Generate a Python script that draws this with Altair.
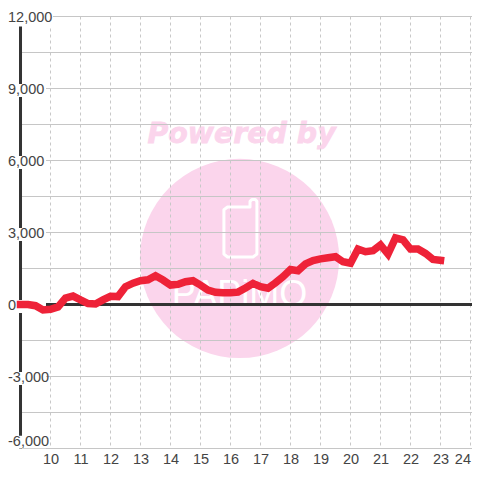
import altair as alt
import pandas as pd

# Series (quarter-hour steps from 9:00 to 23:00)
hours = [9 + i * 0.25 for i in range(57)]
values = [0, 0, -50, -230, -200, -100, 270, 350, 190, 40, 20, 190, 340, 330, 740, 890,
          990, 1030, 1200, 1020, 810, 840, 950, 990, 810, 600, 510, 490, 490, 515, 690, 880,
          740, 680, 910, 1160, 1460, 1410, 1690, 1830, 1900, 1950, 1990, 1780, 1720, 2310,
          2200, 2240, 2480, 2100, 2770, 2690, 2310, 2310, 2130, 1880, 1840]

x_ticks = list(range(10, 25))
y_major = [12000, 9000, 6000, 3000, 0, -3000, -6000]
y_lines = list(range(-6000, 12001, 1500))
y_text = ["12,000", "9,000", "6,000", "3,000", "0", "-3,000", "-6,000"]

# Watermark phone outline
phone_hours = [16.65, 15.9, 15.78, 15.78, 15.9, 16.75, 16.88, 16.88, 16.82, 16.72, 16.65, 16.65]
phone_vals = [4060, 4060, 3950, 2100, 1980, 1980, 2100, 4300, 4380, 4380, 4300, 4060]

X_DOM = [8.583, 24.05]
Y_DOM = [-6020.83, 12354.17]
x_s = alt.Scale(domain=X_DOM, nice=False, zero=False)
y_s = alt.Scale(domain=Y_DOM, nice=False, zero=False)

labels = pd.DataFrame({"v": y_major, "t": y_text})
series = pd.DataFrame({"h": hours, "v": values})
hgrid = pd.DataFrame({"v": y_lines, "x1": [9] * len(y_lines), "x2": [X_DOM[1]] * len(y_lines)})
vgrid = pd.DataFrame({"h": x_ticks, "a": [12000] * len(x_ticks), "b": [-6000] * len(x_ticks)})
phone = pd.DataFrame({"h": phone_hours, "v": phone_vals, "o": range(len(phone_hours))})

PINK = "#fbd5ec"
DARK = "#333333"
TXT = "#444444"
FONT = "Liberation Sans"

AX = alt.Axis(values=x_ticks, domain=False, ticks=False, grid=False,
              title=None, labelFont=FONT, labelFontSize=14.5, labelColor=TXT, labelPadding=3,
              labelFlush=2, labelOverlap=False, format="d")
X = alt.X("h:Q", scale=x_s, axis=AX)
X1 = alt.X("x1:Q", scale=x_s, axis=AX)
Y = alt.Y("v:Q", scale=y_s, axis=None)
YA = alt.Y("a:Q", scale=y_s, axis=None)

circle = alt.Chart(pd.DataFrame({"h": [16.3], "v": [1917]})).mark_circle(
    size=39700, color=PINK, opacity=1).encode(x=X, y=Y)
powered = alt.Chart(pd.DataFrame({"h": [16.37], "v": [7100], "t": ["Powered by"]})).mark_text(
    font="DejaVu Sans", fontWeight="bold", fontStyle="italic", fontSize=28.4, color=PINK,
    stroke=PINK, strokeWidth=0.8, baseline="middle", align="center").encode(x=X, y=Y, text="t:N")
brand = alt.Chart(pd.DataFrame({"h": [16.3], "v": [-70], "t": ["PAPiMO"]})).mark_text(
    font=FONT, fontSize=36, color="white", baseline="alphabetic",
    align="center").encode(x=X, y=Y, text="t:N")
phone_l = alt.Chart(phone).mark_line(color="white", strokeWidth=3, strokeJoin="round", strokeCap="round").encode(
    x=X, y=Y, order="o:Q")

h_rules = alt.Chart(hgrid).mark_rule(color="#c6c6c6", strokeWidth=1.2).encode(x=X1, x2="x2:Q", y=Y)
v_rules = alt.Chart(vgrid).mark_rule(color="#c8c8c8", strokeWidth=1, strokeDash=[3, 3]).encode(x=X, y=YA, y2="b:Q")

zero_rule = alt.Chart(pd.DataFrame({"v": [0], "x1": [9], "x2": [X_DOM[1]]})).mark_rule(
    color=DARK, strokeWidth=3).encode(x=X1, x2="x2:Q", y=Y)
y_rule = alt.Chart(pd.DataFrame({"h": [9], "a": [12000], "b": [-6000]})).mark_rule(
    color=DARK, strokeWidth=3).encode(x=X, y=YA, y2="b:Q")

def box(filter_expr, right, off, sw):
    return alt.Chart(labels).transform_filter(filter_expr).mark_rule(
        color="white", strokeWidth=sw, yOffset=off).encode(
        x=alt.value(0), x2=alt.value(right), y=Y)

def lab(filter_expr, off):
    return alt.Chart(labels).transform_filter(filter_expr).mark_text(
        align="left", baseline="middle", font=FONT, fontSize=14.5, color=TXT, dy=off).encode(
        x=alt.value(0), y=Y, text="t:N")

MID = "datum.v != 12000 && datum.v != -6000"
boxes = box(MID, 38, 2, 13) + box("datum.v == 12000", 45, 2, 16) + box("datum.v == -6000", 38, -6.5, 12.5)
texts = lab("datum.v != -6000", 1) + lab("datum.v == -6000", -7)

line = alt.Chart(series).mark_line(color="#ee2238", strokeWidth=7.5, strokeCap="square",
                                   strokeJoin="miter").encode(x=X, y=Y)

chart = alt.layer(circle, powered, brand, phone_l, h_rules, v_rules, zero_rule, y_rule, boxes, line, texts).properties(
    width=464, height=441, autosize=alt.AutoSizeParams(type="none"),
    padding={"left": 0, "top": 0, "right": 0, "bottom": 23}, background="white"
).configure_view(stroke=None)

chart.save("out.html", embed_options={"renderer": "svg", "actions": False})
